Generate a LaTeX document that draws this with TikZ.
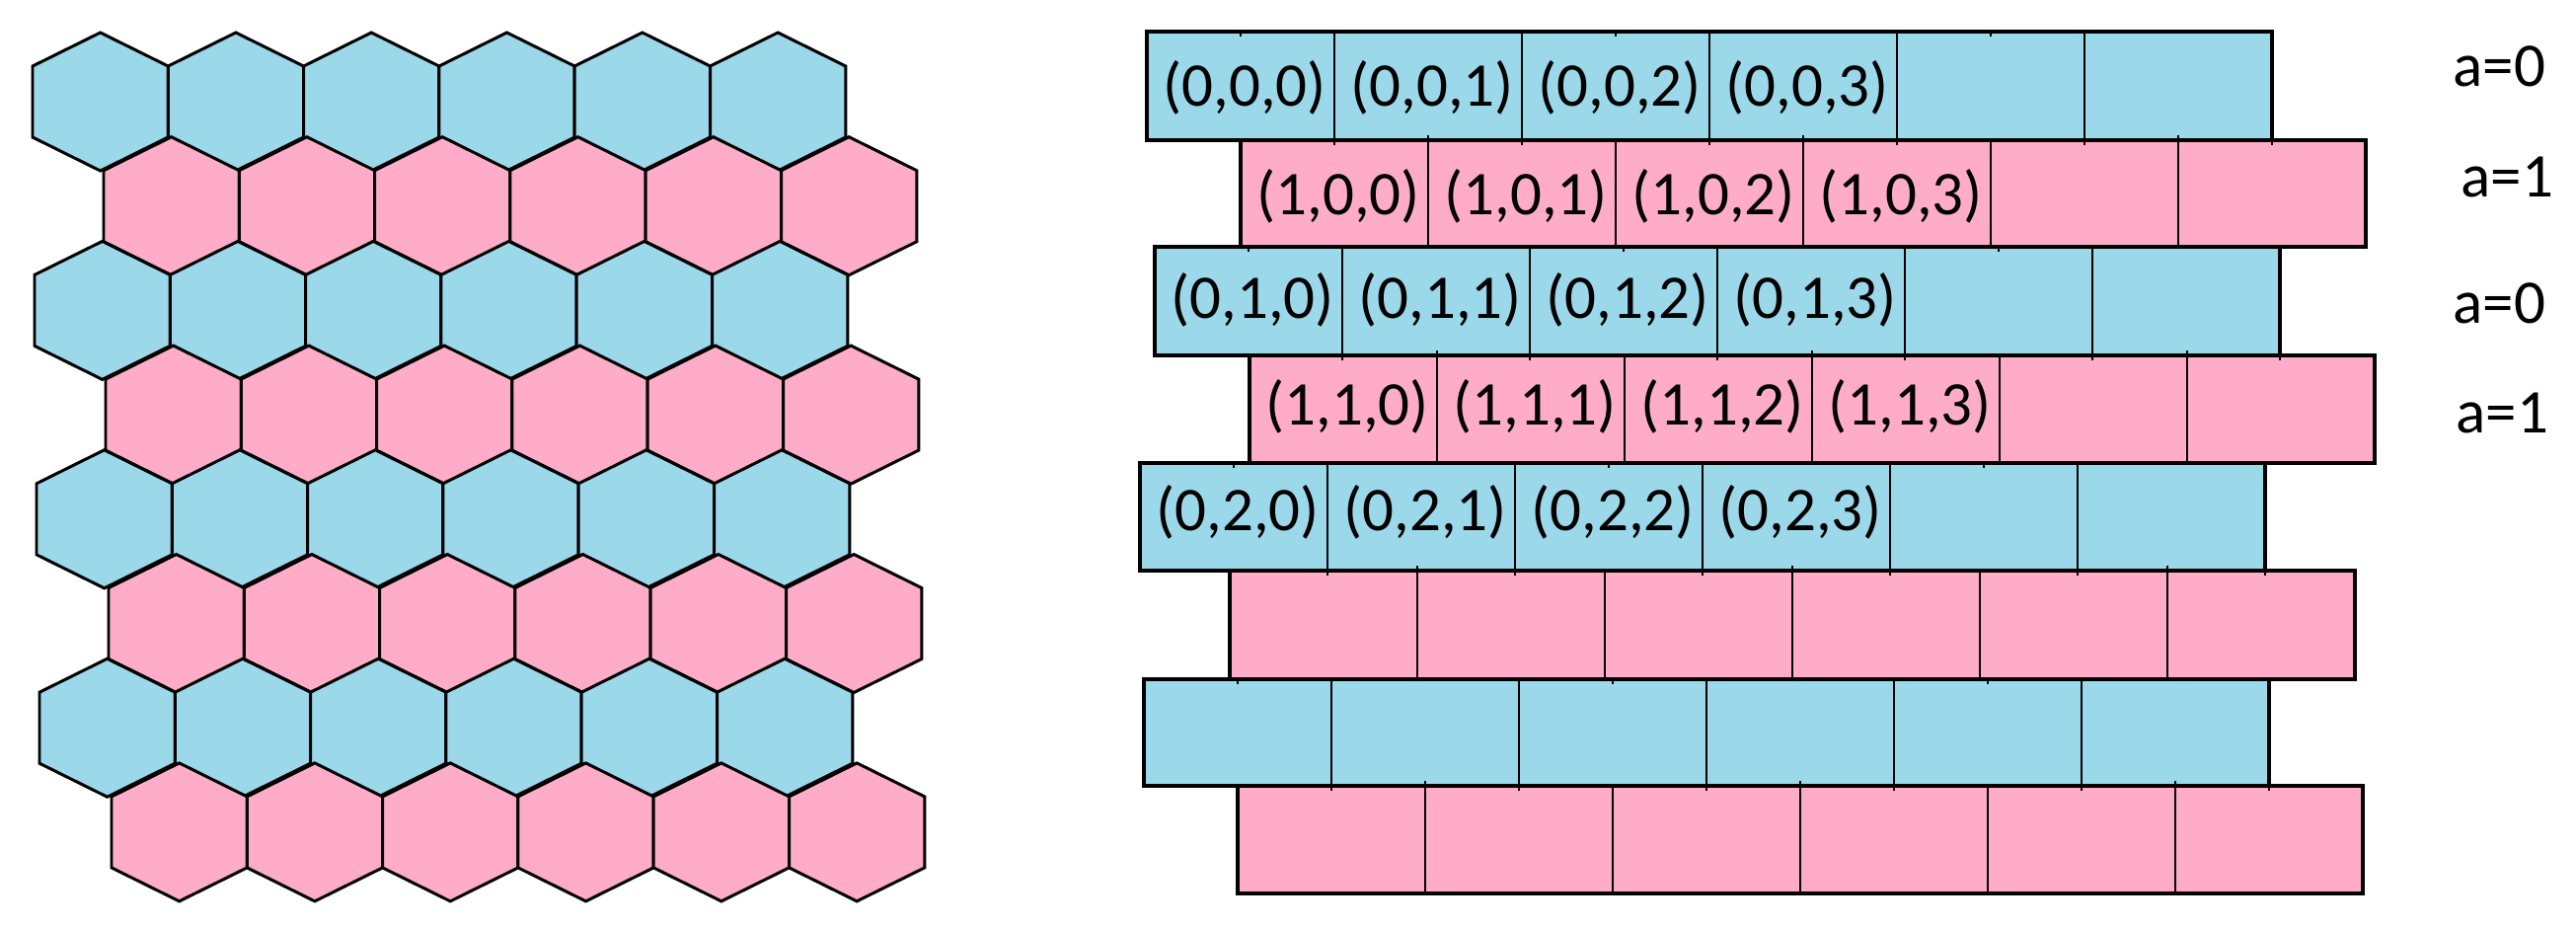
\documentclass[tikz,border=0pt]{standalone}
\usepackage{fontspec}
\setmainfont{Carlito}
\definecolor{cellblue}{RGB}{155,216,233}
\definecolor{cellpink}{RGB}{254,172,200}
\begin{document}
\begin{tikzpicture}[x=0.01cm,y=-0.01cm,
  hexcell/.style={draw=black,line width=0.85pt,line join=miter},
  rowbox/.style={draw=black,line width=1.1pt},
  sepline/.style={draw=black,line width=0.7pt},
  celltext/.style={anchor=base,inner sep=0pt,font=\fontsize{17.9}{20}\selectfont},
  alabel/.style={anchor=base west,inner sep=0pt,font=\fontsize{17.9}{20}\selectfont}]
\useasboundingbox (0,0) rectangle (2610,939);

% ---------- honeycomb (left) ----------
\foreach \r/\L in {0/33,1/105,2/35,3/107,4/37,5/110,6/40,7/113} {
  \pgfmathsetmacro\T{33+105.7*\r}
  \pgfmathtruncatemacro\odd{mod(\r,2)}
  \ifnum\odd=0 \def\fc{cellblue}\else\def\fc{cellpink}\fi
  \foreach \k in {0,...,5} {
    \pgfmathsetmacro\xa{\L+137.3*\k}
    \path[hexcell,fill=\fc] (\xa,\T+34) -- (\xa+68.65,\T) -- (\xa+137.3,\T+34)
      -- (\xa+137.3,\T+106) -- (\xa+68.65,\T+140) -- (\xa,\T+106) -- cycle;
  }
}

% ---------- brick rows (right) ----------
\foreach \r/\L/\tp/\bt in {0/1162/32/142,1/1257/142/250,2/1170/250/360,3/1266/360/469,
                          4/1155/469/578,5/1246/578/688,6/1159/688/796,7/1254/796/905} {
  \pgfmathtruncatemacro\odd{mod(\r,2)}
  \ifnum\odd=0 \def\fc{cellblue}\else\def\fc{cellpink}\fi
  \fill[\fc] (\L,\tp) rectangle (\L+1140,\bt);
  \foreach \k in {1,...,5} {
    \draw[sepline] (\L+190*\k,\tp) -- (\L+190*\k,\bt);
  }
  \draw[rowbox] (\L,\tp) rectangle (\L+1140,\bt);
}
% small stubs
\foreach \L/\tp/\bt in {1162/32/142,1170/250/360,1155/469/578,1159/688/796} {
  \foreach \m in {0,2,4} { \draw[sepline] (\L+95+190*\m,\tp) -- ++(0,5); }
  \foreach \k in {1,...,6} { \draw[sepline] (\L+190*\k,\bt) -- ++(0,5); }
}
\foreach \L/\tp in {1257/142,1266/360,1246/578,1254/796} {
  \foreach \k in {1,3,5} { \draw[sepline] (\L+190*\k,\tp) -- ++(0,-5); }
}

% ---------- labels ----------
\foreach \r/\L/\bl/\a/\b in {0/1162/107/0/0,1/1257/217/1/0,2/1170/322/0/1,3/1266/430/1/1,4/1155/537/0/2} {
  \foreach \c in {0,...,3} {
    \node[celltext] (t-\r-\c) at (\L+99+190*\c,\bl) {(\a,\b,\c)};
  }
}
\node[alabel] (a0) at (2485,87) {a=0};
\node[alabel] (a1) at (2493,199) {a=1};
\node[alabel] (a2) at (2485,327) {a=0};
\node[alabel] (a3) at (2488,438) {a=1};
\end{tikzpicture}
\end{document}
